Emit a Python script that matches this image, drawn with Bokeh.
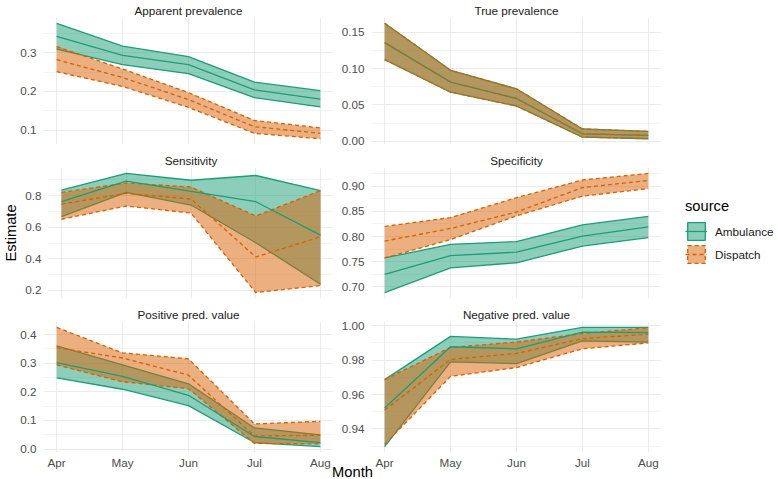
import numpy as np
from bokeh.plotting import figure
from bokeh.layouts import row, column
from bokeh.models import (Range1d, FixedTicker, PrintfTickFormatter, Legend,
                          LegendItem, Label, Spacer, ColumnDataSource)
from bokeh.embed import file_html
from bokeh.resources import INLINE

# ---------------- data ----------------
months = ["Apr", "May", "Jun", "Jul", "Aug"]
month_idx = [0, 1, 2, 3, 4]
sources = ["Ambulance", "Dispatch"]

# Apparent prevalence
app_amb_est = [0.342, 0.293, 0.269, 0.204, 0.180]
app_amb_lo = [0.309, 0.269, 0.246, 0.184, 0.160]
app_amb_hi = [0.376, 0.317, 0.290, 0.224, 0.202]
app_dis_est = [0.282, 0.236, 0.179, 0.109, 0.092]
app_dis_lo = [0.251, 0.213, 0.159, 0.092, 0.078]
app_dis_hi = [0.316, 0.258, 0.197, 0.125, 0.106]

# True prevalence
tru_amb_est = [0.136, 0.0815, 0.059, 0.0103, 0.008]
tru_amb_lo = [0.1126, 0.0676, 0.0486, 0.0058, 0.0035]
tru_amb_hi = [0.1626, 0.0978, 0.0723, 0.017, 0.0135]
tru_dis_est = [0.136, 0.0815, 0.059, 0.0103, 0.008]
tru_dis_lo = [0.1126, 0.0676, 0.0486, 0.0058, 0.0035]
tru_dis_hi = [0.1626, 0.0978, 0.0723, 0.017, 0.0135]

# Sensitivity
sen_amb_est = [0.762, 0.892, 0.828, 0.762, 0.551]
sen_amb_lo = [0.668, 0.821, 0.741, 0.502, 0.240]
sen_amb_hi = [0.836, 0.941, 0.898, 0.928, 0.832]
sen_dis_est = [0.747, 0.815, 0.779, 0.412, 0.540]
sen_dis_lo = [0.651, 0.735, 0.690, 0.187, 0.231]
sen_dis_hi = [0.821, 0.881, 0.855, 0.672, 0.832]

# Specificity
spe_amb_est = [0.725, 0.762, 0.769, 0.801, 0.819]
spe_amb_lo = [0.689, 0.738, 0.748, 0.781, 0.798]
spe_amb_hi = [0.7575, 0.7845, 0.790, 0.823, 0.840]
spe_dis_est = [0.791, 0.816, 0.8485, 0.897, 0.911]
spe_dis_lo = [0.7575, 0.794, 0.841, 0.880, 0.895]
spe_dis_hi = [0.820, 0.8375, 0.877, 0.912, 0.925]

# Positive predictive value
ppv_amb_est = [0.302, 0.254, 0.188, 0.044, 0.023]
ppv_amb_lo = [0.249, 0.209, 0.152, 0.023, 0.009]
ppv_amb_hi = [0.360, 0.294, 0.228, 0.074, 0.050]
ppv_dis_est = [0.354, 0.318, 0.258, 0.046, 0.048]
ppv_dis_lo = [0.294, 0.235, 0.211, 0.020, 0.018]
ppv_dis_hi = [0.4246, 0.336, 0.315, 0.088, 0.097]

# Negative predictive value
npv_amb_est = [0.9522, 0.9878, 0.9866, 0.9963, 0.9960]
npv_amb_lo = [0.9298, 0.9790, 0.9780, 0.9912, 0.9905]
npv_amb_hi = [0.9687, 0.9938, 0.9922, 0.9990, 0.9990]
npv_dis_est = [0.9510, 0.9804, 0.9839, 0.9925, 0.9951]
npv_dis_lo = [0.9310, 0.9706, 0.9757, 0.9866, 0.9900]
npv_dis_hi = [0.9687, 0.9874, 0.9905, 0.9955, 0.9988]

# y tick positions
app_ticks, app_minor = [0.1, 0.2, 0.3], [0.05, 0.15, 0.25, 0.35]
tru_ticks, tru_minor = [0.0, 0.05, 0.10, 0.15], [0.025, 0.075, 0.125, 0.175]
sen_ticks, sen_minor = [0.2, 0.4, 0.6, 0.8], [0.1, 0.3, 0.5, 0.7, 0.9]
spe_ticks, spe_minor = [0.70, 0.75, 0.80, 0.85, 0.90], [0.675, 0.725, 0.775, 0.825, 0.875, 0.925]
ppv_ticks, ppv_minor = [0.0, 0.1, 0.2, 0.3, 0.4], [0.05, 0.15, 0.25, 0.35, 0.45]
npv_ticks, npv_minor = [0.94, 0.96, 0.98, 1.00], [0.93, 0.95, 0.97, 0.99]

# ---------------- style ----------------
COL_AMB = "#1B9E77"
COL_DIS = "#D95F02"
FONT = "Liberation Sans"
GRID = "#EBEBEB"
TICKC = "#4D4D4D"
LW = 1.3
DASH = "4 3"

FRAME_W = 290
ROW_TOP = [15, 18, 18]
ROW_FRAME = [129, 131, 132]
ROW_BOTTOM = [5, 5, 18]
MONTH_H, MONTH_SHIFT = 17, 9


def make_panel(title, amb, dis, ticks, minor, fmt, left_col, row_i, ylabel=None):
    lo_all = list(amb[1]) + list(dis[1])
    hi_all = list(amb[2]) + list(dis[2])
    lo, hi = min(lo_all), max(hi_all)
    pad = 0.05 * (hi - lo)
    top, fh, bottom = ROW_TOP[row_i], ROW_FRAME[row_i], ROW_BOTTOM[row_i]
    mbl = 43 if left_col else 38
    p = figure(width=mbl + FRAME_W, height=top + fh + bottom,
               x_range=Range1d(-0.2, 4.2), y_range=Range1d(lo - pad, hi + pad),
               output_backend="svg", toolbar_location=None,
               x_axis_location="below" if row_i == 2 else None,
               min_border_left=mbl, min_border_right=0,
               min_border_top=top, min_border_bottom=bottom,
               background_fill_color="white", border_fill_color="white",
               outline_line_color=None)
    p.title.text = title
    p.title.align = "center"
    p.title.text_font = FONT
    p.title.text_font_size = "11.7px"
    p.title.text_font_style = "normal"
    p.title.text_color = "#1A1A1A"
    p.title.standoff = 2

    xt = FixedTicker(ticks=month_idx, minor_ticks=[])
    p.xgrid.ticker = xt
    p.xgrid.grid_line_color = GRID
    p.xgrid.grid_line_width = 1.1
    yt = FixedTicker(ticks=ticks, minor_ticks=minor)
    p.yaxis.ticker = yt
    p.ygrid.ticker = yt
    p.ygrid.grid_line_color = GRID
    p.ygrid.grid_line_width = 1.1
    p.ygrid.minor_grid_line_color = GRID
    p.ygrid.minor_grid_line_width = 0.6

    p.yaxis.formatter = PrintfTickFormatter(format=fmt)
    axes = list(p.yaxis)
    if row_i == 2:
        p.xaxis.ticker = xt
        p.xaxis.major_label_overrides = {i: m for i, m in zip(month_idx, months)}
        axes += list(p.xaxis)
    for ax in axes:
        ax.axis_line_color = None
        ax.major_tick_line_color = None
        ax.minor_tick_line_color = None
        ax.major_tick_out = 0
        ax.major_tick_in = 0
        ax.major_label_text_font = FONT
        ax.major_label_text_font_size = "11.7px"
        ax.major_label_text_color = TICKC
        ax.major_label_standoff = 3
    if ylabel:
        p.yaxis.axis_label = ylabel
        p.yaxis.axis_label_text_font = FONT
        p.yaxis.axis_label_text_font_size = "14.7px"
        p.yaxis.axis_label_text_font_style = "normal"
        p.yaxis.axis_label_text_color = "black"
        p.yaxis.axis_label_standoff = 3

    srcs = []
    for (est, lo_, hi_) in (amb, dis):
        srcs.append(ColumnDataSource(dict(x=month_idx, est=est, lo=lo_, hi=hi_)))
    styles = [(COL_AMB, "solid"), (COL_DIS, DASH)]
    # ribbons with outlines
    for s, (c, d) in zip(srcs, styles):
        p.varea(x="x", y1="lo", y2="hi", source=s, fill_color=c, fill_alpha=0.5)
        p.line(x="x", y="hi", source=s, line_color=c, line_width=LW, line_dash=d)
        p.line(x="x", y="lo", source=s, line_color=c, line_width=LW, line_dash=d)
    # estimate lines
    for s, (c, d) in zip(srcs, styles):
        p.line(x="x", y="est", source=s, line_color=c, line_width=LW, line_dash=d)
    return p


f1 = make_panel("Apparent prevalence", (app_amb_est, app_amb_lo, app_amb_hi),
                (app_dis_est, app_dis_lo, app_dis_hi), app_ticks, app_minor, "%.1f", True, 0)
f2 = make_panel("True prevalence", (tru_amb_est, tru_amb_lo, tru_amb_hi),
                (tru_dis_est, tru_dis_lo, tru_dis_hi), tru_ticks, tru_minor, "%.2f", False, 0)
f3 = make_panel("Sensitivity", (sen_amb_est, sen_amb_lo, sen_amb_hi),
                (sen_dis_est, sen_dis_lo, sen_dis_hi), sen_ticks, sen_minor, "%.1f", True, 1,
                ylabel="Estimate")
f4 = make_panel("Specificity", (spe_amb_est, spe_amb_lo, spe_amb_hi),
                (spe_dis_est, spe_dis_lo, spe_dis_hi), spe_ticks, spe_minor, "%.2f", False, 1)
f5 = make_panel("Positive pred. value", (ppv_amb_est, ppv_amb_lo, ppv_amb_hi),
                (ppv_dis_est, ppv_dis_lo, ppv_dis_hi), ppv_ticks, ppv_minor, "%.1f", True, 2)
f6 = make_panel("Negative pred. value", (npv_amb_est, npv_amb_lo, npv_amb_hi),
                (npv_dis_est, npv_dis_lo, npv_dis_hi), npv_ticks, npv_minor, "%.2f", False, 2)

# ---------------- x-axis title ----------------
mf = figure(width=80, height=MONTH_H, output_backend="svg", toolbar_location=None,
            x_axis_location=None, y_axis_location=None, min_border=0,
            outline_line_color=None, x_range=Range1d(0, 1), y_range=Range1d(0, 1),
            background_fill_color=None, border_fill_color=None,
            margin=(-MONTH_SHIFT, 0, 0, 0))
mf.grid.visible = False
mf.add_layout(Label(x=40, y=MONTH_H / 2 - 1, x_units="screen", y_units="screen", text="Month",
                    text_align="center", text_baseline="middle", text_font=FONT,
                    text_font_size="14.7px", text_color="black"))

# ---------------- legend ----------------
TOTAL_H = sum(ROW_TOP) + sum(ROW_FRAME) + sum(ROW_BOTTOM) + MONTH_H - MONTH_SHIFT
LEG_W = 778 - (38 + FRAME_W) - (43 + FRAME_W)
lf = figure(width=LEG_W, height=TOTAL_H, output_backend="svg", toolbar_location=None,
            x_axis_location=None, y_axis_location=None, min_border=0,
            outline_line_color=None, x_range=Range1d(0, 1), y_range=Range1d(0, 1),
            background_fill_color="white", border_fill_color="white")
lf.grid.visible = False
items = []
for name, (est, lo_, hi_), c, d in [
        ("Ambulance", (spe_amb_est, spe_amb_lo, spe_amb_hi), COL_AMB, "solid"),
        ("Dispatch", (spe_dis_est, spe_dis_lo, spe_dis_hi), COL_DIS, DASH)]:
    xs = list(month_idx) + list(month_idx)[::-1]
    ys = list(hi_) + list(lo_)[::-1]
    pr = lf.patch(xs, ys, fill_color=c, fill_alpha=0.5, line_color=c, line_width=LW,
                  line_dash=d, visible=False)
    lr = lf.line(month_idx, est, line_color=c, line_width=LW, line_dash=d, visible=False)
    items.append(LegendItem(label=name, renderers=[pr, lr]))
leg = Legend(items=items, location=(24, TOTAL_H - 265), title="source",
             title_text_font=FONT, title_text_font_size="14.7px",
             title_text_font_style="normal", title_text_color="black", title_standoff=6,
             label_text_font=FONT, label_text_font_size="11.7px", label_text_color="#1A1A1A",
             glyph_width=22, glyph_height=22, label_height=22, spacing=1,
             label_standoff=8, padding=0, margin=0, border_line_color=None,
             background_fill_alpha=0)
lf.add_layout(leg, "center")

left = column(row(f1, f2), row(f3, f4), row(f5, f6),
              row(Spacer(width=312, height=MONTH_H), mf))
layout = row(left, lf)

open("out.html", "w").write(file_html(layout, INLINE))
